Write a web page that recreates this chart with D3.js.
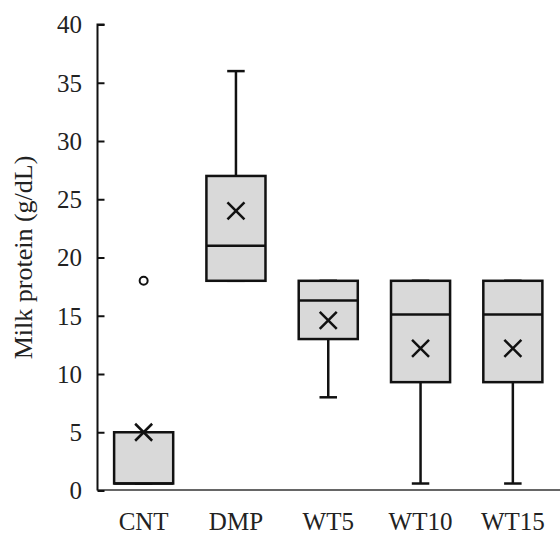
<!DOCTYPE html>
<html>
<head>
<meta charset="utf-8">
<script src="https://cdn.jsdelivr.net/npm/d3@7"></script>
<style>
  html, body { margin: 0; padding: 0; background: #fff; }
  svg { display: block; }
  text { font-family: "Liberation Serif", "Times New Roman", serif; fill: #222; }
</style>
</head>
<body>
<svg id="chart" width="560" height="536"></svg>
<script>
const categories = ["CNT", "DMP", "WT5", "WT10", "WT15"];
const whiskerLow  = [0.6, 18, 8, 0.6, 0.6];
const q1          = [0.6, 18, 13, 9.3, 9.3];
const median      = [0.6, 21, 16.3, 15.1, 15.1];
const q3          = [5, 27, 18, 18, 18];
const whiskerHigh = [5, 36, 18, 18, 18];
const means       = [5, 24, 14.6, 12.2, 12.2];
const outliers    = [{cat: "CNT", value: 18}];
const yTicks      = [0, 5, 10, 15, 20, 25, 30, 35, 40];
const yLabel      = "Milk protein (g/dL)";

const data = categories.map((c, i) => ({
  cat: c, lo: whiskerLow[i], q1: q1[i], med: median[i], q3: q3[i], hi: whiskerHigh[i], mean: means[i]
}));

const svg = d3.select("#chart");
const mLeft = 97.5, mRight = 559, mTop = 24.5, mBottom = 490.5;

const x = d3.scaleBand().domain(categories).range([mLeft, mRight]).padding(0);
const y = d3.scaleLinear().domain([0, 40]).range([mBottom, mTop]);

const boxW = x.bandwidth() * 0.64;
const capW = 17.5;
const xs = 8.5;
const stroke = "#111";

// x axis line
svg.append("line")
  .attr("x1", mLeft).attr("x2", 560)
  .attr("y1", mBottom - 0.5).attr("y2", mBottom - 0.5)
  .attr("stroke", "#333").attr("stroke-width", 1.6);

// y axis
const yAxis = d3.axisRight(y).tickValues(yTicks).tickSize(7).tickFormat("");
const gy = svg.append("g").attr("transform", `translate(${mLeft},0)`).call(yAxis);
gy.select(".domain").attr("stroke", stroke).attr("stroke-width", 2)
  .attr("d", `M7,${mTop}H0V${mBottom}`);
gy.selectAll(".tick line").attr("stroke", stroke).attr("stroke-width", 2);

svg.append("g").selectAll("text").data(yTicks).join("text")
  .attr("x", 82).attr("y", d => y(d))
  .attr("dy", "0.35em")
  .attr("text-anchor", "end")
  .attr("font-size", 25)
  .text(d => d);

// x labels
svg.append("g").selectAll("text").data(categories).join("text")
  .attr("x", d => x(d) + x.bandwidth() / 2)
  .attr("y", 530)
  .attr("text-anchor", "middle")
  .attr("font-size", 25)
  .text(d => d);

// y label
svg.append("text")
  .attr("transform", `translate(32,${(mTop + mBottom) / 2}) rotate(-90)`)
  .attr("text-anchor", "middle")
  .attr("font-size", 26)
  .text(yLabel);

const g = svg.append("g").selectAll("g").data(data).join("g")
  .attr("transform", d => `translate(${x(d.cat) + x.bandwidth() / 2},0)`);

// whiskers
g.append("line").attr("x1", 0).attr("x2", 0)
  .attr("y1", d => y(d.hi)).attr("y2", d => y(d.q3))
  .attr("stroke", stroke).attr("stroke-width", 2.5);
g.append("line").attr("x1", 0).attr("x2", 0)
  .attr("y1", d => y(d.lo)).attr("y2", d => y(d.q1))
  .attr("stroke", stroke).attr("stroke-width", 2.5);
g.append("line").attr("x1", -capW / 2).attr("x2", capW / 2)
  .attr("y1", d => y(d.hi)).attr("y2", d => y(d.hi))
  .attr("stroke", stroke).attr("stroke-width", 2.5);
g.append("line").attr("x1", -capW / 2).attr("x2", capW / 2)
  .attr("y1", d => y(d.lo)).attr("y2", d => y(d.lo))
  .attr("stroke", stroke).attr("stroke-width", 2.5);

// boxes
g.append("rect")
  .attr("x", -boxW / 2).attr("width", boxW)
  .attr("y", d => y(d.q3)).attr("height", d => y(d.q1) - y(d.q3))
  .attr("fill", "#d9d9d9").attr("stroke", stroke).attr("stroke-width", 2.5);

// median
g.append("line").attr("x1", -boxW / 2).attr("x2", boxW / 2)
  .attr("y1", d => y(d.med)).attr("y2", d => y(d.med))
  .attr("stroke", stroke).attr("stroke-width", 2.5);

// mean markers
g.append("path")
  .attr("d", d => {
    const cy = y(d.mean);
    return `M${-xs},${cy - xs}L${xs},${cy + xs}M${-xs},${cy + xs}L${xs},${cy - xs}`;
  })
  .attr("stroke", stroke).attr("stroke-width", 2.5).attr("fill", "none");

// outliers
svg.append("g").selectAll("circle").data(outliers).join("circle")
  .attr("cx", d => x(d.cat) + x.bandwidth() / 2)
  .attr("cy", d => y(d.value))
  .attr("r", 4)
  .attr("fill", "#fff").attr("stroke", stroke).attr("stroke-width", 2);
</script>
</body>
</html>
